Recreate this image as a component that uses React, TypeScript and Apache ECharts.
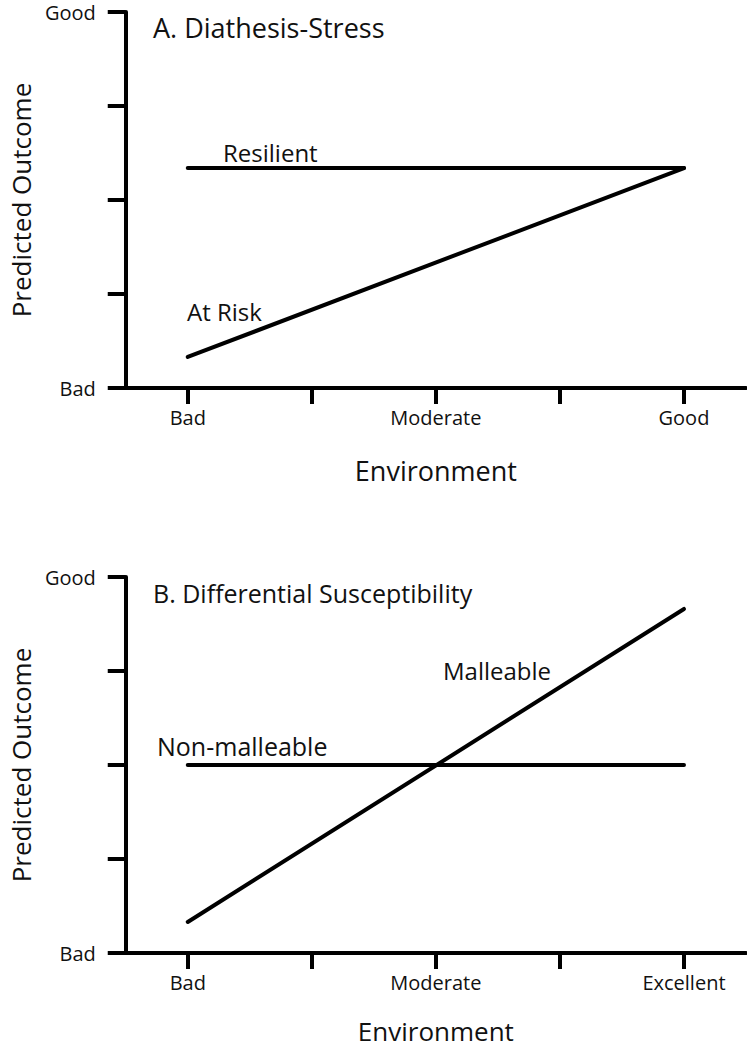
import React, { useEffect, useRef } from "react";
import * as echarts from "echarts";

const envCategories = ["0", "1", "2", "3", "4"];
const envTickLabelsA = ["Bad", "", "Moderate", "", "Good"];
const envTickLabelsB = ["Bad", "", "Moderate", "", "Excellent"];
const outcomeTickLabels = ["Bad", "", "", "", "Good"];

const resilient = [[0, 2.34], [4, 2.34]];
const atRisk = [[0, 0.33], [4, 2.34]];
const nonMalleable = [[0, 2], [4, 2]];
const malleable = [[0, 0.33], [4, 3.66]];

const FONT = "Open Sans";

function xAxisFor(gridIndex: number, labels: string[], nameGap: number, nameSize: number) {
  return {
    type: "category",
    gridIndex,
    data: envCategories,
    boundaryGap: true,
    axisLine: { show: true, lineStyle: { color: "#000", width: 4 } },
    axisTick: { show: true, alignWithLabel: true, interval: 0, length: 16, lineStyle: { color: "#000", width: 4 } },
    axisLabel: {
      interval: 0,
      margin: 19,
      color: "#111",
      fontSize: 20,
      fontFamily: FONT,
      formatter: (_v: string, i: number) => labels[i],
    },
    splitLine: { show: false },
    name: "Environment",
    nameLocation: "middle",
    nameGap,
    nameTextStyle: { color: "#111", fontSize: nameSize, lineHeight: nameSize + 1, fontFamily: FONT },
  };
}

function yAxisFor(gridIndex: number) {
  return {
    type: "value",
    gridIndex,
    min: 0,
    max: 4,
    interval: 1,
    axisLine: { show: true, lineStyle: { color: "#000", width: 4 } },
    axisTick: { show: true, inside: false, length: 18, lineStyle: { color: "#000", width: 4 } },
    axisLabel: {
      margin: 30,
      color: "#111",
      fontSize: 20,
      fontFamily: FONT,
      formatter: (v: number) => outcomeTickLabels[Math.round(v)] || "",
    },
    splitLine: { show: false },
    name: "Predicted Outcome",
    nameLocation: "middle",
    nameGap: 88,
    nameTextStyle: { color: "#111", fontSize: 26, fontFamily: FONT },
  };
}

function lineSeries(name: string, data: number[][], axisIndex: number) {
  return {
    name,
    type: "line",
    xAxisIndex: axisIndex,
    yAxisIndex: axisIndex,
    data,
    symbol: "none",
    lineStyle: { color: "#000", width: 4, cap: "round" },
    silent: true,
  };
}

function label(text: string, x: number, y: number, size: number) {
  return {
    type: "text",
    x,
    y,
    style: {
      text,
      fill: "#111",
      fontSize: size,
      fontFamily: FONT,
      textAlign: "left",
      textVerticalAlign: "middle",
    },
  };
}

export default function App() {
  const ref = useRef<HTMLDivElement>(null);
  useEffect(() => {
    if (!ref.current) return;
    const chart = echarts.init(ref.current, null, { renderer: "svg" });
    chart.setOption({
      animation: false,
      backgroundColor: "#fff",
      grid: [
        { left: 115, top: 12, width: 631, height: 376 },
        { left: 115, top: 577, width: 631, height: 376 },
      ],
      xAxis: [xAxisFor(0, envTickLabelsA, 68, 27), xAxisFor(1, envTickLabelsB, 64, 26)],
      yAxis: [yAxisFor(0), yAxisFor(1)],
      series: [
        lineSeries("Resilient", resilient, 0),
        lineSeries("At Risk", atRisk, 0),
        lineSeries("Non-malleable", nonMalleable, 1),
        lineSeries("Malleable", malleable, 1),
      ],
      graphic: [
        label("A. Diathesis-Stress", 153, 27, 27),
        label("Resilient", 223, 152, 24),
        label("At Risk", 187, 311, 24),
        label("B. Differential Susceptibility", 153, 593, 25),
        label("Non-malleable", 157, 746, 25),
        label("Malleable", 443, 670, 24),
      ],
    });
    return () => chart.dispose();
  }, []);
  return (
    <div
      ref={ref}
      style={{ position: "fixed", left: 0, top: 0, width: 747, height: 1050, background: "#fff" }}
    />
  );
}
